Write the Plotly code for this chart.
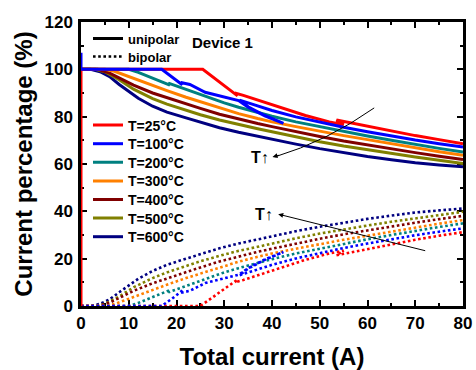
import plotly.graph_objects as go

# ---------------- data ----------------
temps = ["T=25°C", "T=100°C", "T=200°C", "T=300°C", "T=400°C", "T=500°C", "T=600°C"]
colors = ["#FF0000", "#0000FF", "#008080", "#FF8000", "#800000", "#808000", "#000080"]

# unipolar current percentage (%) vs total current (A)
u25_x = [0, 0, 25.5, 32.8, 32.2, 34, 38, 42.4, 47, 52, 55, 53.5, 58, 64, 70, 75, 80]
u25_y = [0, 100, 100, 88.8, 90.0, 89.0, 86.3, 83.4, 80.5, 77.8, 76.6, 78.6, 76.8, 74.3, 72.0, 70.3, 68.6]

u100_x = [0, 0, 16.9, 19, 21.2, 20.9, 22.8, 26, 30, 33, 35, 38.5, 42.4, 38.5, 35, 33.2, 36, 40, 45, 50, 55, 60, 65, 70, 75, 80]
u100_y = [107, 100, 100, 97, 93.5, 94.4, 93.6, 90.3, 88.2, 86.8, 84, 80.3, 77.2, 80.5, 84.2, 87, 85.2, 82.6, 79.9, 77.6, 75.5, 73.6, 71.8, 70.1, 68.6, 67.2]

u200_x = [0, 10, 12, 15, 18.6, 18.3, 20, 22.8, 26, 30, 33, 36, 40, 45, 50, 55, 60, 65, 70, 75, 80]
u200_y = [100, 100, 98.7, 96.3, 93.3, 94.2, 93.0, 91.0, 88.5, 85.8, 84.0, 82.3, 80.2, 77.8, 75.7, 73.7, 71.8, 70.0, 68.2, 66.6, 65.1]

u300_x = [0, 5, 7, 9, 11, 15, 18, 22, 25, 29, 33, 37, 40, 45, 50, 55, 60, 65, 70, 75, 80]
u300_y = [100, 100, 99.2, 97.7, 96, 93.2, 91.0, 88.2, 86.3, 83.7, 81.3, 79.2, 77.8, 75.8, 73.8, 72.0, 70.3, 68.5, 66.8, 65.2, 63.7]

u400_x = [0, 3.5, 6, 8, 11, 15, 18, 22, 25, 29, 33, 37, 40, 45, 50, 55, 60, 65, 70, 75, 80]
u400_y = [100, 100, 98.4, 96.4, 93.3, 90.0, 88.0, 85.3, 83.5, 81.0, 78.9, 77.1, 75.8, 73.6, 71.6, 69.7, 68.0, 66.4, 64.8, 63.3, 61.9]

u500_x = [0, 3, 5, 8, 11, 15, 18, 22, 25, 29, 33, 37, 40, 45, 50, 55, 60, 65, 70, 75, 80]
u500_y = [100, 100, 99.0, 95.6, 91.6, 87.6, 85.3, 82.6, 80.8, 78.6, 76.6, 74.9, 73.6, 71.4, 69.4, 67.6, 66.0, 64.4, 63.0, 61.6, 60.2]

u600_x = [0, 2, 4, 6, 8, 10, 12, 15, 18, 22, 25, 29, 33, 37, 40, 45, 50, 55, 60, 65, 70, 75, 80]
u600_y = [100, 100, 99.0, 96.9, 93.6, 90.6, 87.8, 84.4, 81.9, 79.5, 77.6, 75.3, 73.4, 71.7, 70.4, 68.4, 66.5, 64.8, 63.2, 61.8, 60.5, 59.6, 58.8]

# bipolar current percentage (%) vs total current (A)
b25_x = [0, 25, 32.8, 32.2, 34, 38, 42.4, 47, 52, 55, 53.5, 58, 64, 70, 75, 80]
b25_y = [0, 0, 11.2, 10.0, 11.0, 13.7, 16.6, 19.5, 22.2, 23.4, 21.4, 23.2, 25.7, 28.0, 29.7, 31.2]

b100_x = [0, 16.9, 19, 21.2, 20.9, 22.8, 26, 30, 33, 35, 38.5, 42.4, 38.5, 35, 33.2, 36, 40, 45, 50, 55, 60, 65, 70, 75, 80]
b100_y = [0, 0, 3, 6.5, 5.6, 6.4, 9.7, 11.8, 13.2, 16.0, 19.7, 22.8, 19.5, 15.8, 13.0, 14.8, 17.4, 20.1, 22.4, 24.5, 26.4, 28.2, 29.9, 31.4, 32.8]

b200_x = [0, 10, 12, 15, 18.6, 18.3, 20, 22.8, 26, 30, 33, 36, 40, 45, 50, 55, 60, 65, 70, 75, 80]
b200_y = [0, 0, 1.3, 3.7, 6.7, 5.8, 7.0, 9.0, 11.5, 14.2, 16.0, 17.7, 19.8, 22.2, 24.3, 26.3, 28.2, 30.0, 31.8, 33.4, 34.9]

b300_x = [0, 5, 7, 9, 11, 15, 18, 22, 25, 29, 33, 37, 40, 45, 50, 55, 60, 65, 70, 75, 80]
b300_y = [0, 0, 0.8, 2.3, 4.0, 6.8, 9.0, 11.8, 13.7, 16.3, 18.7, 20.8, 22.2, 24.2, 26.2, 28.0, 29.7, 31.5, 33.2, 34.8, 36.3]

b400_x = [0, 3.5, 6, 8, 11, 15, 18, 22, 25, 29, 33, 37, 40, 45, 50, 55, 60, 65, 70, 75, 80]
b400_y = [0, 0, 1.4, 3.3, 6.4, 9.6, 11.7, 14.4, 16.3, 18.8, 21.0, 22.9, 24.2, 26.4, 28.4, 30.3, 32.0, 33.6, 35.2, 36.7, 38.1]

b500_x = [0, 3, 5, 8, 11, 15, 18, 22, 25, 29, 33, 37, 40, 45, 50, 55, 60, 65, 70, 75, 80]
b500_y = [0, 0, 0.9, 4.0, 7.9, 11.8, 14.2, 17.0, 18.9, 21.2, 23.3, 25.0, 26.4, 28.6, 30.6, 32.4, 34.0, 35.6, 37.0, 38.4, 39.8]

b600_x = [0, 2, 4, 6, 8, 10, 12, 15, 18, 22, 25, 29, 33, 37, 40, 45, 50, 55, 60, 65, 70, 75, 80]
b600_y = [0, 0, 0.9, 2.8, 5.8, 8.8, 11.5, 14.8, 17.4, 20.0, 22.0, 24.4, 26.4, 28.2, 29.6, 31.6, 33.5, 35.2, 36.8, 38.2, 39.5, 40.4, 41.2]

x_ticks = [0, 10, 20, 30, 40, 50, 60, 70, 80]
y_ticks = [0, 20, 40, 60, 80, 100, 120]

uni = [(u25_x, u25_y), (u100_x, u100_y), (u200_x, u200_y), (u300_x, u300_y),
       (u400_x, u400_y), (u500_x, u500_y), (u600_x, u600_y)]
bip = [(b25_x, b25_y), (b100_x, b100_y), (b200_x, b200_y), (b300_x, b300_y),
       (b400_x, b400_y), (b500_x, b500_y), (b600_x, b600_y)]

# ---------------- figure ----------------
FONT = "Liberation Sans, Arial, sans-serif"
W, H = 476, 370
ML, MR, MT, MB = 81, 13, 22, 64
PW, PH = W - ML - MR, H - MT - MB

def px2paper_y(py):
    return (H - MB - py) / PH

def px2paper_x(px):
    return (px - ML) / PW

fig = go.Figure()

# legend entries for line styles
fig.add_trace(go.Scatter(x=[None], y=[None], mode="lines", name="unipolar",
                         line=dict(color="black", width=3), legend="legend"))
fig.add_trace(go.Scatter(x=[None], y=[None], mode="lines", name="bipolar",
                         line=dict(color="black", width=2.6, dash="2.6px,2.6px"), legend="legend2"))

order = [6, 5, 4, 3, 2, 0, 1]
for i in order:
    bx, by = bip[i]
    fig.add_trace(go.Scatter(x=bx, y=by, mode="lines", showlegend=False,
                             line=dict(color=colors[i], width=2.6, dash="2.6px,2.6px")))
for i in order:
    ux, uy = uni[i]
    fig.add_trace(go.Scatter(x=ux, y=uy, mode="lines", name=temps[i],
                             legend=f"legend{i + 3}",
                             line=dict(color=colors[i], width=3)))

layout_legends = {}
style_leg_py = [38.5, 56.5]
for k, py in enumerate(style_leg_py):
    key = "legend" if k == 0 else "legend2"
    layout_legends[key] = dict(x=px2paper_x(88), y=px2paper_y(py), xanchor="left", yanchor="middle",
                               bgcolor="rgba(0,0,0,0)", borderwidth=0,
                               font=dict(family=FONT, size=13, color="black", weight="bold"))
for i in range(7):
    py = 125.5 + 18.6 * i
    layout_legends[f"legend{i + 3}"] = dict(x=px2paper_x(88), y=px2paper_y(py), xanchor="left", yanchor="middle",
                                             bgcolor="rgba(0,0,0,0)", borderwidth=0,
                                             font=dict(family=FONT, size=14, color="black", weight="bold"))

axis_common = dict(showline=True, linecolor="black", linewidth=2.5, mirror="ticks",
                   ticks="inside", ticklen=6, tickwidth=2, tickcolor="black",
                   showgrid=False, zeroline=False, layer="below traces", automargin=False,
                   tickfont=dict(family=FONT, size=17, color="black", weight="bold"))

fig.update_layout(
    width=W, height=H,
    margin=dict(l=ML, r=MR, t=MT, b=MB, autoexpand=False),
    paper_bgcolor="white", plot_bgcolor="white",
    xaxis=dict(range=[0, 80], tickvals=x_ticks,
               minor=dict(dtick=5, ticklen=3.5, tickwidth=2, ticks="inside", tickcolor="black"),
               title=dict(text="Total current (A)", standoff=18,
                          font=dict(family=FONT, size=24, color="black", weight="bold")),
               ticklabelstandoff=0, **axis_common),
    yaxis=dict(range=[0, 120], tickvals=y_ticks,
               minor=dict(dtick=10, ticklen=3.5, tickwidth=2, ticks="inside", tickcolor="black"),
               title=dict(text="Current percentage (%)", standoff=6,
                          font=dict(family=FONT, size=24, color="black", weight="bold")),
               ticklabelstandoff=2, **axis_common),
    **layout_legends,
)

# curved arrow (upper) and straight arrow (lower)
fig.add_shape(type="path", xref="x", yref="y",
              path="M 61.4,83.7 Q 51.5,69.6 40.6,63.0",
              line=dict(color="black", width=1))
fig.add_annotation(x=40.1, y=63.0, ax=8, ay=-2, xref="x", yref="y", text="",
                   showarrow=True, arrowhead=2, arrowsize=1, arrowwidth=1, arrowcolor="black")
fig.add_annotation(x=41.3, y=38.8, ax=72.4, ay=23.2, xref="x", yref="y", axref="x", ayref="y",
                   text="", showarrow=True, arrowhead=2, arrowsize=1, arrowwidth=1, arrowcolor="black")

fig.add_annotation(x=37.5, y=62.9, xref="x", yref="y", text="T↑", showarrow=False,
                   font=dict(family=FONT, size=16, color="black", weight="bold"))
fig.add_annotation(x=38.3, y=38.8, xref="x", yref="y", text="T↑", showarrow=False,
                   font=dict(family=FONT, size=16, color="black", weight="bold"))
fig.add_annotation(x=29.6, y=111.5, xref="x", yref="y", text="Device 1", showarrow=False,
                   font=dict(family=FONT, size=15, color="black", weight="bold"))

fig.write_html("out.html")
